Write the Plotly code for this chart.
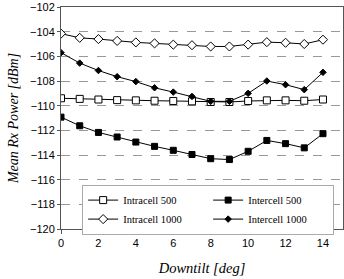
import plotly.graph_objects as go

downtilt = list(range(15))
intracell_500 = [-109.4, -109.45, -109.5, -109.55, -109.57, -109.6, -109.62, -109.65, -109.7, -109.7, -109.62, -109.57, -109.57, -109.6, -109.5]
intercell_500 = [-110.93, -111.63, -112.17, -112.54, -112.95, -113.3, -113.62, -113.96, -114.3, -114.37, -113.7, -112.82, -113.08, -113.42, -112.27]
intracell_1000 = [-104.16, -104.5, -104.6, -104.75, -104.87, -104.95, -105.05, -105.1, -105.2, -105.2, -105.05, -104.85, -104.9, -105.0, -104.65]
intercell_1000 = [-105.7, -106.55, -107.15, -107.65, -108.05, -108.55, -108.9, -109.25, -109.65, -109.65, -109.0, -108.0, -108.3, -108.7, -107.3]

series = [
    ("Intracell 500", intracell_500, "square", 7, "white"),
    ("Intercell 500", intercell_500, "square", 6, "black"),
    ("Intracell 1000", intracell_1000, "diamond", 7, "white"),
    ("Intercell 1000", intercell_1000, "diamond", 5, "black"),
]

fig = go.Figure()
for name, vals, sym, sz, fill in series:
    fig.add_trace(go.Scatter(
        x=downtilt, y=vals, name=name, mode="lines+markers",
        line=dict(color="black", width=1),
        marker=dict(symbol=sym, size=sz, color=fill,
                    line=dict(color="black", width=1)),
    ))

fig.update_layout(
    width=344, height=279,
    margin=dict(l=61, r=1, t=7, b=50),
    paper_bgcolor="white", plot_bgcolor="white",
    showlegend=True,
    legend=dict(
        orientation="h", x=0.075, y=0.2, xanchor="left", yanchor="top",
        entrywidth=80, entrywidthmode="pixels",
        bgcolor="white", bordercolor="#aaaaaa", borderwidth=1,
        font=dict(family="Liberation Serif", size=10.5, color="black"),
        tracegroupgap=0, itemwidth=30,
    ),
    xaxis=dict(
        range=[0, 15.07], tickvals=list(range(0, 15, 2)),
        showgrid=False, zeroline=False,
        showline=True, linecolor="#555555", linewidth=1, mirror=True,
        ticks="outside", ticklen=4, tickcolor="#555555",
        tickfont=dict(family="Liberation Sans", size=11, color="black"),
        title=dict(text="Downtilt [deg]", font=dict(family="Liberation Serif", size=14.5, color="black", style="italic"), standoff=14),
    ),
    yaxis=dict(
        range=[-120, -102], dtick=2, tick0=-120,
        showgrid=True, gridcolor="#999999", griddash="dash", gridwidth=1,
        zeroline=False,
        showline=True, linecolor="#555555", linewidth=1, mirror=True,
        ticks="outside", ticklen=3, tickcolor="#555555",
        tickfont=dict(family="Liberation Sans", size=11, color="black"),
        title=dict(text="Mean Rx Power [dBm]", font=dict(family="Liberation Serif", size=14, color="black", style="italic"), standoff=8),
    ),
)

fig.write_html("out.html")
